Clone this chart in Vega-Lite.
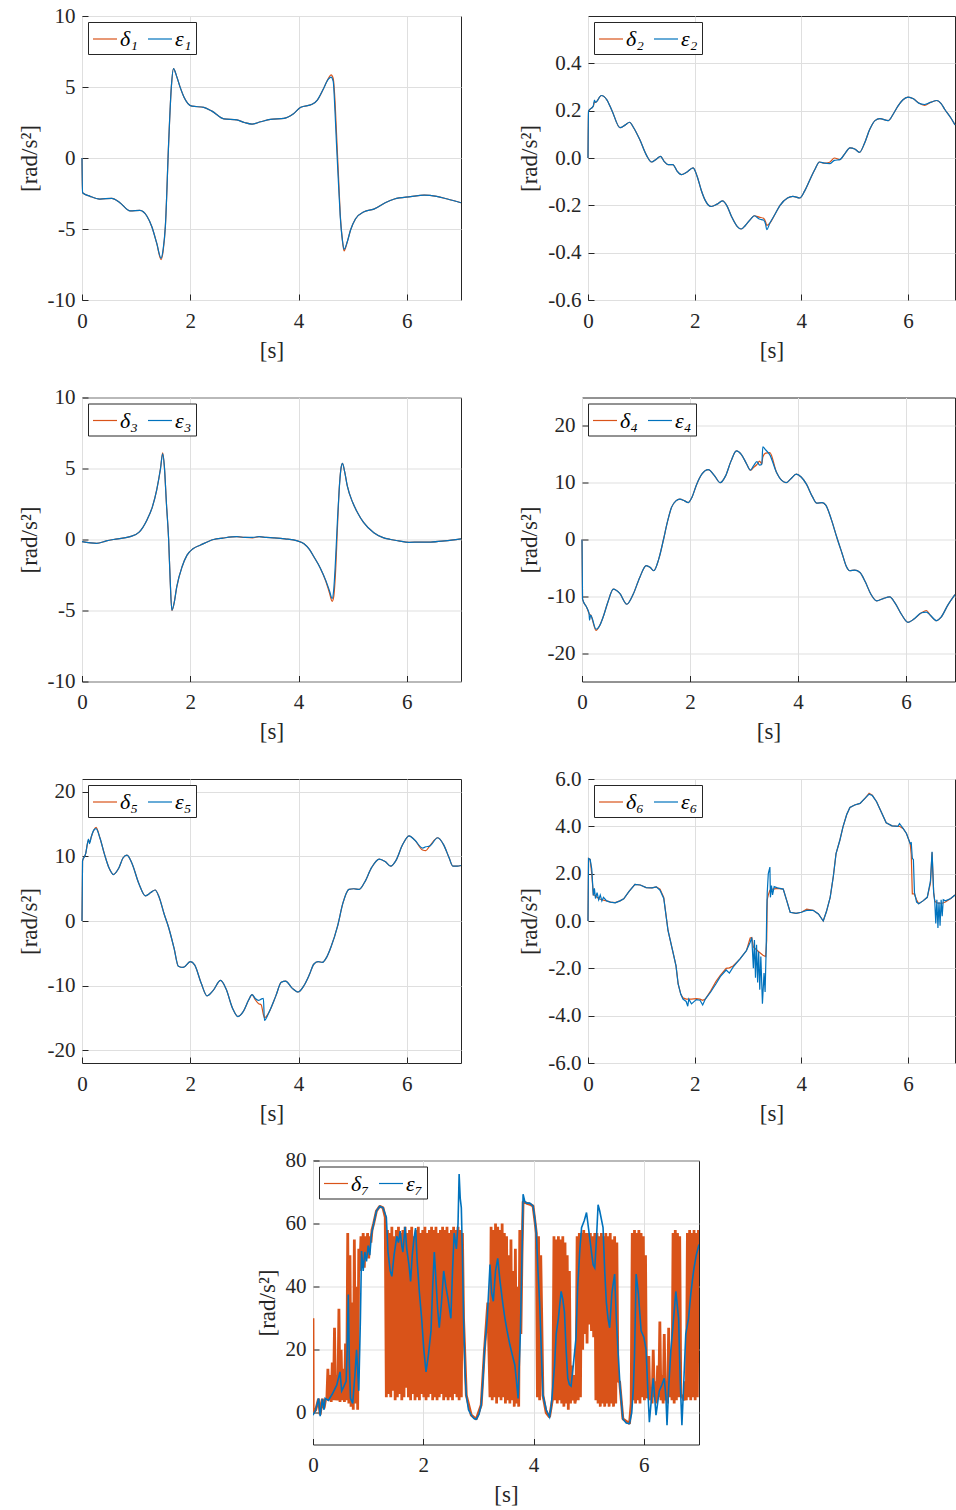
{
"$schema":"https://vega.github.io/schema/vega-lite/v6.json",
"background":"white",
"padding":{"left":17,"top":4,"right":0,"bottom":0},
"spacing":22.5,
"bounds":"full",
"resolve":{"scale":{"color":"independent","x":"independent","y":"independent"},"legend":{"color":"independent"}},
"config":{
 "font":"Liberation Serif, DejaVu Serif, serif",
 "view":{"stroke":"#262626","strokeWidth":1},
 "axis":{"labelFont":"Liberation Serif, DejaVu Serif, serif","labelFontSize":21,"labelColor":"#262626","titleFont":"Liberation Serif, DejaVu Serif, serif","titleFontSize":23,"titleFontWeight":"normal","titleColor":"#262626","domain":false,"grid":true,"gridColor":"#dfdfdf","gridWidth":1,"tickColor":"#262626","tickSize":-6,"tickWidth":1,"labelFlush":false},
 "axisX":{"labelPadding":16,"titlePadding":8,"labelAngle":0},
 "axisY":{"labelPadding":13,"titlePadding":6},
 "legend":{"orient":"top-left","offset":6,"direction":"horizontal","fillColor":"white","strokeColor":"#262626","padding":4,"symbolType":"stroke","symbolSize":576,"symbolStrokeWidth":1.2,"labelFont":"Liberation Serif, DejaVu Serif, serif","labelFontSize":22,"labelFontStyle":"italic","labelColor":"#000000","labelOffset":2,"columnPadding":7},
 "line":{"strokeWidth":1.2,"clip":true}
},
"datasets":{
"p1":[{"t":0,"d":0,"e":0},{"t":0.01,"d":-2.45,"e":-2.45},{"t":0.15,"d":-2.7,"e":-2.7},{"t":0.33,"d":-2.89,"e":-2.89},{"t":0.55,"d":-2.84,"e":-2.84},{"t":0.7,"d":-3.15,"e":-3.15},{"t":0.89,"d":-3.73,"e":-3.73},{"t":1.07,"d":-3.69,"e":-3.69},{"t":1.2,"d":-4.1,"e":-4.1},{"t":1.29,"d":-4.84,"e":-4.84},{"t":1.38,"d":-6.0,"e":-6.0},{"t":1.46,"d":-7.15,"e":-7.05},{"t":1.5,"d":-6.5,"e":-6.4},{"t":1.54,"d":-4.8,"e":-4.8},{"t":1.6,"d":1.03,"e":1.03},{"t":1.65,"d":5.0,"e":5.0},{"t":1.69,"d":6.3,"e":6.3},{"t":1.75,"d":5.73,"e":5.73},{"t":1.82,"d":4.9,"e":4.9},{"t":1.88,"d":4.32,"e":4.32},{"t":2.03,"d":3.65,"e":3.65},{"t":2.25,"d":3.57,"e":3.57},{"t":2.4,"d":3.3,"e":3.3},{"t":2.62,"d":2.75,"e":2.75},{"t":2.86,"d":2.68,"e":2.68},{"t":3.0,"d":2.5,"e":2.5},{"t":3.14,"d":2.39,"e":2.39},{"t":3.3,"d":2.55,"e":2.55},{"t":3.48,"d":2.72,"e":2.72},{"t":3.73,"d":2.79,"e":2.79},{"t":3.9,"d":3.1,"e":3.1},{"t":4.04,"d":3.57,"e":3.57},{"t":4.25,"d":3.78,"e":3.78},{"t":4.35,"d":4.1,"e":4.1},{"t":4.45,"d":4.8,"e":4.8},{"t":4.55,"d":5.6,"e":5.55},{"t":4.6,"d":5.85,"e":5.7},{"t":4.64,"d":5.6,"e":5.4},{"t":4.67,"d":4.2,"e":3.5},{"t":4.7,"d":1.8,"e":1.03},{"t":4.74,"d":-1.5,"e":-2.0},{"t":4.77,"d":-4.0,"e":-4.13},{"t":4.81,"d":-5.8,"e":-5.8},{"t":4.84,"d":-6.55,"e":-6.43},{"t":4.9,"d":-5.9,"e":-5.9},{"t":4.96,"d":-5.07,"e":-5.07},{"t":5.05,"d":-4.3,"e":-4.3},{"t":5.21,"d":-3.78,"e":-3.78},{"t":5.39,"d":-3.6,"e":-3.6},{"t":5.6,"d":-3.15,"e":-3.15},{"t":5.77,"d":-2.89,"e":-2.89},{"t":6.07,"d":-2.72,"e":-2.72},{"t":6.32,"d":-2.61,"e":-2.61},{"t":6.55,"d":-2.7,"e":-2.7},{"t":6.75,"d":-2.89,"e":-2.89},{"t":7.0,"d":-3.15,"e":-3.15}],
"p2":[{"t":0,"d":0,"e":0},{"t":0.01,"d":0.198,"e":0.198},{"t":0.1,"d":0.22,"e":0.22},{"t":0.12,"d":0.235,"e":0.245},{"t":0.14,"d":0.235,"e":0.235},{"t":0.25,"d":0.264,"e":0.264},{"t":0.35,"d":0.247,"e":0.247},{"t":0.45,"d":0.2,"e":0.2},{"t":0.6,"d":0.128,"e":0.128},{"t":0.7,"d":0.14,"e":0.14},{"t":0.78,"d":0.151,"e":0.151},{"t":0.85,"d":0.13,"e":0.13},{"t":0.97,"d":0.078,"e":0.078},{"t":1.1,"d":0.01,"e":0.01},{"t":1.19,"d":-0.017,"e":-0.017},{"t":1.28,"d":-0.005,"e":-0.005},{"t":1.36,"d":0.007,"e":0.007},{"t":1.43,"d":-0.015,"e":-0.015},{"t":1.5,"d":-0.028,"e":-0.028},{"t":1.59,"d":-0.028,"e":-0.028},{"t":1.67,"d":-0.055,"e":-0.055},{"t":1.75,"d":-0.07,"e":-0.07},{"t":1.85,"d":-0.06,"e":-0.06},{"t":1.97,"d":-0.042,"e":-0.042},{"t":2.05,"d":-0.08,"e":-0.08},{"t":2.12,"d":-0.134,"e":-0.134},{"t":2.2,"d":-0.18,"e":-0.18},{"t":2.31,"d":-0.205,"e":-0.205},{"t":2.42,"d":-0.195,"e":-0.195},{"t":2.52,"d":-0.181,"e":-0.181},{"t":2.6,"d":-0.2,"e":-0.2},{"t":2.69,"d":-0.247,"e":-0.247},{"t":2.8,"d":-0.29,"e":-0.29},{"t":2.87,"d":-0.3,"e":-0.3},{"t":2.95,"d":-0.285,"e":-0.285},{"t":3.05,"d":-0.258,"e":-0.258},{"t":3.12,"d":-0.244,"e":-0.244},{"t":3.21,"d":-0.25,"e":-0.258},{"t":3.29,"d":-0.255,"e":-0.262},{"t":3.33,"d":-0.27,"e":-0.28},{"t":3.35,"d":-0.285,"e":-0.303},{"t":3.41,"d":-0.275,"e":-0.275},{"t":3.5,"d":-0.24,"e":-0.24},{"t":3.6,"d":-0.2,"e":-0.2},{"t":3.74,"d":-0.169,"e":-0.169},{"t":3.84,"d":-0.162,"e":-0.162},{"t":3.97,"d":-0.169,"e":-0.169},{"t":4.06,"d":-0.14,"e":-0.14},{"t":4.16,"d":-0.092,"e":-0.092},{"t":4.25,"d":-0.05,"e":-0.05},{"t":4.34,"d":-0.017,"e":-0.017},{"t":4.43,"d":-0.022,"e":-0.022},{"t":4.53,"d":-0.018,"e":-0.024},{"t":4.62,"d":0.0,"e":-0.01},{"t":4.72,"d":-0.007,"e":-0.007},{"t":4.82,"d":0.02,"e":0.02},{"t":4.91,"d":0.043,"e":0.043},{"t":5.0,"d":0.038,"e":0.038},{"t":5.09,"d":0.024,"e":0.024},{"t":5.18,"d":0.06,"e":0.06},{"t":5.28,"d":0.12,"e":0.12},{"t":5.38,"d":0.158,"e":0.158},{"t":5.47,"d":0.166,"e":0.166},{"t":5.63,"d":0.158,"e":0.158},{"t":5.72,"d":0.185,"e":0.185},{"t":5.81,"d":0.219,"e":0.219},{"t":5.9,"d":0.245,"e":0.245},{"t":6.0,"d":0.257,"e":0.257},{"t":6.1,"d":0.25,"e":0.25},{"t":6.2,"d":0.232,"e":0.232},{"t":6.31,"d":0.222,"e":0.226},{"t":6.42,"d":0.235,"e":0.235},{"t":6.54,"d":0.243,"e":0.243},{"t":6.62,"d":0.23,"e":0.23},{"t":6.69,"d":0.205,"e":0.205},{"t":6.8,"d":0.17,"e":0.17},{"t":6.88,"d":0.14,"e":0.14}],
"p3":[{"t":0,"d":-0.15,"e":-0.15},{"t":0.27,"d":-0.27,"e":-0.27},{"t":0.45,"d":-0.1,"e":-0.1},{"t":0.58,"d":0.0,"e":0.0},{"t":0.89,"d":0.2,"e":0.2},{"t":1.05,"d":0.5,"e":0.5},{"t":1.2,"d":1.38,"e":1.38},{"t":1.3,"d":2.3,"e":2.3},{"t":1.38,"d":3.5,"e":3.5},{"t":1.45,"d":5.0,"e":5.0},{"t":1.49,"d":6.1,"e":6.04},{"t":1.52,"d":5.2,"e":5.2},{"t":1.56,"d":2.5,"e":2.5},{"t":1.6,"d":0,"e":0},{"t":1.63,"d":-3.0,"e":-3.0},{"t":1.66,"d":-5.0,"e":-4.98},{"t":1.7,"d":-4.5,"e":-4.5},{"t":1.75,"d":-3.33,"e":-3.33},{"t":1.85,"d":-1.9,"e":-1.9},{"t":1.94,"d":-1.1,"e":-1.1},{"t":2.05,"d":-0.65,"e":-0.65},{"t":2.19,"d":-0.39,"e":-0.39},{"t":2.43,"d":0,"e":0},{"t":2.6,"d":0.1,"e":0.1},{"t":2.86,"d":0.2,"e":0.2},{"t":3.0,"d":0.15,"e":0.15},{"t":3.15,"d":0.12,"e":0.15},{"t":3.27,"d":0.2,"e":0.2},{"t":3.4,"d":0.15,"e":0.15},{"t":3.54,"d":0.12,"e":0.12},{"t":3.75,"d":0.05,"e":0.05},{"t":3.98,"d":-0.1,"e":-0.1},{"t":4.1,"d":-0.3,"e":-0.3},{"t":4.2,"d":-0.7,"e":-0.7},{"t":4.28,"d":-1.2,"e":-1.2},{"t":4.4,"d":-2.0,"e":-2.0},{"t":4.5,"d":-2.9,"e":-2.86},{"t":4.57,"d":-3.75,"e":-3.6},{"t":4.62,"d":-4.35,"e":-4.15},{"t":4.65,"d":-4.0,"e":-3.5},{"t":4.68,"d":-2.5,"e":-1.65},{"t":4.72,"d":1.0,"e":1.5},{"t":4.75,"d":3.5,"e":3.5},{"t":4.78,"d":4.9,"e":4.9},{"t":4.81,"d":5.36,"e":5.36},{"t":4.85,"d":4.8,"e":4.8},{"t":4.9,"d":3.77,"e":3.77},{"t":5.0,"d":2.6,"e":2.6},{"t":5.09,"d":1.89,"e":1.89},{"t":5.2,"d":1.2,"e":1.2},{"t":5.39,"d":0.48,"e":0.48},{"t":5.55,"d":0.15,"e":0.15},{"t":5.7,"d":0,"e":0},{"t":5.85,"d":-0.1,"e":-0.1},{"t":6.04,"d":-0.2,"e":-0.2},{"t":6.25,"d":-0.18,"e":-0.18},{"t":6.44,"d":-0.18,"e":-0.18},{"t":6.7,"d":-0.1,"e":-0.1},{"t":7.0,"d":0.05,"e":0.05}],
"p4":[{"t":0,"d":0,"e":0},{"t":0.01,"d":-10.5,"e":-10.5},{"t":0.09,"d":-12,"e":-12},{"t":0.13,"d":-13,"e":-13},{"t":0.14,"d":-13.2,"e":-14.2},{"t":0.16,"d":-13.3,"e":-13.3},{"t":0.26,"d":-16.0,"e":-15.8},{"t":0.32,"d":-15.3,"e":-15.3},{"t":0.39,"d":-13.7,"e":-13.7},{"t":0.48,"d":-11,"e":-11},{"t":0.58,"d":-8.73,"e":-8.73},{"t":0.7,"d":-9.5,"e":-9.5},{"t":0.83,"d":-11.4,"e":-11.4},{"t":0.95,"d":-9.6,"e":-9.6},{"t":1.07,"d":-6.67,"e":-6.67},{"t":1.19,"d":-4.6,"e":-4.6},{"t":1.26,"d":-4.9,"e":-4.9},{"t":1.33,"d":-5.5,"e":-5.5},{"t":1.42,"d":-3.5,"e":-3.5},{"t":1.51,"d":0,"e":0},{"t":1.58,"d":3,"e":3},{"t":1.66,"d":5.7,"e":5.7},{"t":1.74,"d":6.8,"e":6.8},{"t":1.81,"d":7.1,"e":7.1},{"t":1.9,"d":6.8,"e":6.8},{"t":1.97,"d":6.5,"e":6.5},{"t":2.04,"d":7.5,"e":7.5},{"t":2.12,"d":9.6,"e":9.6},{"t":2.22,"d":11.5,"e":11.5},{"t":2.34,"d":12.3,"e":12.3},{"t":2.45,"d":11.3,"e":11.3},{"t":2.56,"d":10.0,"e":10.0},{"t":2.66,"d":11.2,"e":11.2},{"t":2.76,"d":13.8,"e":13.8},{"t":2.86,"d":15.6,"e":15.6},{"t":2.95,"d":15.0,"e":15.0},{"t":3.05,"d":13.3,"e":13.3},{"t":3.12,"d":12.2,"e":12.2},{"t":3.18,"d":12.7,"e":13.0},{"t":3.24,"d":13.2,"e":13.7},{"t":3.29,"d":13.8,"e":13.1},{"t":3.33,"d":13.3,"e":13.2},{"t":3.35,"d":14.5,"e":16.3},{"t":3.4,"d":15.2,"e":15.8},{"t":3.48,"d":15.3,"e":14.9},{"t":3.6,"d":11.9,"e":11.9},{"t":3.7,"d":10.4,"e":10.4},{"t":3.78,"d":10.0,"e":10.0},{"t":3.87,"d":10.7,"e":10.7},{"t":3.97,"d":11.5,"e":11.5},{"t":4.06,"d":11.0,"e":11.0},{"t":4.16,"d":9.7,"e":9.7},{"t":4.27,"d":7.5,"e":7.5},{"t":4.35,"d":6.4,"e":6.4},{"t":4.45,"d":6.5,"e":6.5},{"t":4.52,"d":6.0,"e":6.0},{"t":4.62,"d":3.5,"e":3.5},{"t":4.72,"d":0.4,"e":0.4},{"t":4.82,"d":-2.5,"e":-2.5},{"t":4.9,"d":-4.8,"e":-4.8},{"t":4.96,"d":-5.5,"e":-5.5},{"t":5.05,"d":-5.4,"e":-5.4},{"t":5.15,"d":-5.8,"e":-5.8},{"t":5.25,"d":-7.5,"e":-7.5},{"t":5.35,"d":-9.6,"e":-9.6},{"t":5.46,"d":-10.8,"e":-10.8},{"t":5.58,"d":-10.4,"e":-10.4},{"t":5.7,"d":-10.1,"e":-10.1},{"t":5.8,"d":-11.2,"e":-11.2},{"t":5.92,"d":-13.2,"e":-13.2},{"t":6.04,"d":-14.6,"e":-14.6},{"t":6.15,"d":-14.0,"e":-14.0},{"t":6.29,"d":-12.9,"e":-12.9},{"t":6.38,"d":-12.5,"e":-12.8},{"t":6.45,"d":-13.3,"e":-13.3},{"t":6.57,"d":-14.3,"e":-14.3},{"t":6.65,"d":-13.7,"e":-13.7},{"t":6.78,"d":-11.5,"e":-11.5},{"t":6.91,"d":-9.7,"e":-9.7}],
"p5":[{"t":0,"d":0,"e":0},{"t":0.01,"d":9.3,"e":9.3},{"t":0.07,"d":10.5,"e":10.5},{"t":0.1,"d":12.0,"e":12.0},{"t":0.12,"d":12.5,"e":12.7},{"t":0.14,"d":12.2,"e":12.0},{"t":0.17,"d":13.0,"e":13.0},{"t":0.22,"d":14.1,"e":14.1},{"t":0.26,"d":14.5,"e":14.3},{"t":0.33,"d":12.9,"e":12.9},{"t":0.42,"d":10.2,"e":10.2},{"t":0.5,"d":8.2,"e":8.2},{"t":0.58,"d":7.2,"e":7.2},{"t":0.68,"d":8.2,"e":8.2},{"t":0.76,"d":9.8,"e":9.8},{"t":0.83,"d":10.2,"e":10.2},{"t":0.92,"d":9.0,"e":9.0},{"t":1.05,"d":5.8,"e":5.8},{"t":1.17,"d":3.9,"e":3.9},{"t":1.27,"d":4.4,"e":4.4},{"t":1.35,"d":4.8,"e":4.8},{"t":1.42,"d":3.8,"e":3.8},{"t":1.52,"d":1.0,"e":1.0},{"t":1.6,"d":-1.0,"e":-1.0},{"t":1.7,"d":-4.2,"e":-4.2},{"t":1.78,"d":-7.0,"e":-7.0},{"t":1.87,"d":-7.2,"e":-7.2},{"t":2.0,"d":-6.3,"e":-6.3},{"t":2.08,"d":-6.8,"e":-6.8},{"t":2.2,"d":-9.6,"e":-9.6},{"t":2.31,"d":-11.6,"e":-11.6},{"t":2.42,"d":-10.8,"e":-10.8},{"t":2.56,"d":-9.2,"e":-9.2},{"t":2.66,"d":-10.5,"e":-10.5},{"t":2.78,"d":-13.5,"e":-13.5},{"t":2.88,"d":-14.8,"e":-14.8},{"t":2.98,"d":-14.0,"e":-14.0},{"t":3.08,"d":-12.2,"e":-12.2},{"t":3.14,"d":-11.4,"e":-11.4},{"t":3.2,"d":-12.2,"e":-12.0},{"t":3.26,"d":-12.8,"e":-12.3},{"t":3.31,"d":-13.0,"e":-12.1},{"t":3.35,"d":-14.5,"e":-12.0},{"t":3.37,"d":-15.0,"e":-15.4},{"t":3.45,"d":-14.2,"e":-14.2},{"t":3.58,"d":-11.6,"e":-11.6},{"t":3.68,"d":-9.5,"e":-9.5},{"t":3.76,"d":-9.3,"e":-9.3},{"t":3.88,"d":-10.4,"e":-10.4},{"t":3.99,"d":-11.0,"e":-11.0},{"t":4.1,"d":-10.0,"e":-10.0},{"t":4.2,"d":-8.3,"e":-8.3},{"t":4.28,"d":-6.7,"e":-6.7},{"t":4.36,"d":-6.3,"e":-6.3},{"t":4.44,"d":-6.4,"e":-6.4},{"t":4.52,"d":-5.6,"e":-5.6},{"t":4.6,"d":-4.0,"e":-4.0},{"t":4.72,"d":-0.8,"e":-0.8},{"t":4.82,"d":2.8,"e":2.8},{"t":4.93,"d":4.9,"e":4.9},{"t":5.02,"d":5.0,"e":5.0},{"t":5.12,"d":4.9,"e":4.9},{"t":5.22,"d":6.0,"e":6.0},{"t":5.35,"d":8.3,"e":8.3},{"t":5.49,"d":9.6,"e":9.6},{"t":5.6,"d":9.2,"e":9.2},{"t":5.7,"d":8.5,"e":8.5},{"t":5.8,"d":9.4,"e":9.4},{"t":5.92,"d":11.8,"e":11.8},{"t":6.04,"d":13.2,"e":13.2},{"t":6.15,"d":12.5,"e":12.5},{"t":6.29,"d":11.0,"e":11.3},{"t":6.35,"d":10.9,"e":11.5},{"t":6.42,"d":11.6,"e":11.6},{"t":6.57,"d":12.9,"e":12.9},{"t":6.68,"d":11.8,"e":11.8},{"t":6.78,"d":9.8,"e":9.8},{"t":6.85,"d":8.5,"e":8.5},{"t":6.93,"d":8.5,"e":8.5},{"t":7.0,"d":8.6,"e":8.6}],
"p6":[{"t":0,"d":0,"e":0},{"t":0.01,"d":2.64,"e":2.64},{"t":0.04,"d":2.6,"e":2.6},{"t":0.07,"d":2.0,"e":2.2},{"t":0.1,"d":1.1,"e":1.08},{"t":0.12,"d":1.1,"e":1.38},{"t":0.14,"d":1.05,"e":0.95},{"t":0.17,"d":1.0,"e":1.2},{"t":0.2,"d":0.95,"e":0.9},{"t":0.23,"d":0.92,"e":1.1},{"t":0.26,"d":0.9,"e":0.85},{"t":0.29,"d":0.88,"e":1.0},{"t":0.35,"d":0.85,"e":0.85},{"t":0.42,"d":0.8,"e":0.8},{"t":0.51,"d":0.78,"e":0.77},{"t":0.6,"d":0.85,"e":0.85},{"t":0.67,"d":0.94,"e":0.94},{"t":0.77,"d":1.25,"e":1.25},{"t":0.88,"d":1.55,"e":1.55},{"t":0.98,"d":1.52,"e":1.52},{"t":1.09,"d":1.41,"e":1.41},{"t":1.2,"d":1.4,"e":1.4},{"t":1.28,"d":1.44,"e":1.44},{"t":1.35,"d":1.35,"e":1.3},{"t":1.42,"d":1.0,"e":0.95},{"t":1.5,"d":-0.4,"e":-0.4},{"t":1.6,"d":-1.39,"e":-1.39},{"t":1.65,"d":-1.9,"e":-1.9},{"t":1.69,"d":-2.66,"e":-2.66},{"t":1.74,"d":-3.1,"e":-3.1},{"t":1.78,"d":-3.25,"e":-3.3},{"t":1.84,"d":-3.3,"e":-3.4},{"t":1.87,"d":-3.3,"e":-3.6},{"t":1.89,"d":-3.3,"e":-3.3},{"t":1.94,"d":-3.3,"e":-3.5},{"t":2.03,"d":-3.28,"e":-3.32},{"t":2.1,"d":-3.3,"e":-3.35},{"t":2.15,"d":-3.35,"e":-3.55},{"t":2.2,"d":-3.3,"e":-3.3},{"t":2.3,"d":-2.95,"e":-3.0},{"t":2.4,"d":-2.55,"e":-2.65},{"t":2.48,"d":-2.3,"e":-2.35},{"t":2.59,"d":-2.0,"e":-2.07},{"t":2.65,"d":-1.98,"e":-2.2},{"t":2.72,"d":-1.9,"e":-1.95},{"t":2.85,"d":-1.6,"e":-1.6},{"t":2.97,"d":-1.25,"e":-1.25},{"t":3.04,"d":-0.72,"e":-0.9},{"t":3.07,"d":-0.7,"e":-0.7},{"t":3.1,"d":-1.1,"e":-2.0},{"t":3.12,"e":-0.8},{"t":3.14,"e":-2.4},{"t":3.16,"e":-1.0},{"t":3.18,"e":-2.6},{"t":3.2,"d":-1.3,"e":-1.3},{"t":3.22,"e":-2.9},{"t":3.24,"e":-1.5},{"t":3.27,"e":-3.5},{"t":3.28,"d":-1.45},{"t":3.3,"e":-2.2},{"t":3.32,"e":-3.0},{"t":3.33,"d":-1.5},{"t":3.34,"e":-1.2},{"t":3.35,"d":-0.8,"e":0.3},{"t":3.36,"d":0.9,"e":1.2},{"t":3.38,"d":1.1,"e":2.0},{"t":3.41,"d":1.3,"e":2.28},{"t":3.42,"e":1.0},{"t":3.44,"e":1.5},{"t":3.46,"e":1.1},{"t":3.47,"d":1.35},{"t":3.49,"e":1.45},{"t":3.55,"d":1.38,"e":1.4},{"t":3.66,"d":1.35,"e":1.35},{"t":3.72,"d":0.9,"e":0.9},{"t":3.79,"d":0.37,"e":0.37},{"t":3.9,"d":0.32,"e":0.32},{"t":4.0,"d":0.37,"e":0.37},{"t":4.1,"d":0.5,"e":0.45},{"t":4.22,"d":0.45,"e":0.45},{"t":4.32,"d":0.3,"e":0.3},{"t":4.41,"d":0.0,"e":0.0},{"t":4.47,"d":0.4,"e":0.4},{"t":4.54,"d":1.0,"e":1.0},{"t":4.6,"d":1.9,"e":1.9},{"t":4.65,"d":2.85,"e":2.85},{"t":4.72,"d":3.4,"e":3.4},{"t":4.78,"d":3.98,"e":3.98},{"t":4.85,"d":4.5,"e":4.5},{"t":4.91,"d":4.8,"e":4.8},{"t":5.0,"d":4.9,"e":4.9},{"t":5.1,"d":4.97,"e":4.97},{"t":5.2,"d":5.2,"e":5.2},{"t":5.27,"d":5.4,"e":5.36},{"t":5.33,"d":5.32,"e":5.3},{"t":5.41,"d":5.04,"e":5.04},{"t":5.5,"d":4.6,"e":4.6},{"t":5.59,"d":4.15,"e":4.15},{"t":5.7,"d":4.02,"e":4.02},{"t":5.81,"d":4.0,"e":4.0},{"t":5.84,"d":4.0,"e":4.12},{"t":5.91,"d":3.9,"e":3.9},{"t":5.97,"d":3.7,"e":3.7},{"t":6.04,"d":3.27,"e":3.27},{"t":6.06,"d":2.8,"e":3.3},{"t":6.08,"d":1.15,"e":2.64},{"t":6.1,"d":1.15,"e":2.6},{"t":6.12,"d":1.13,"e":1.2},{"t":6.16,"d":0.9,"e":0.8},{"t":6.2,"d":0.73,"e":0.73},{"t":6.28,"d":0.85,"e":0.85},{"t":6.36,"d":1.0,"e":1.0},{"t":6.42,"d":1.6,"e":1.7},{"t":6.45,"d":2.9,"e":2.92},{"t":6.48,"d":1.2,"e":1.2},{"t":6.5,"d":0.85,"e":0.85},{"t":6.52,"d":0.8,"e":-0.1},{"t":6.54,"e":0.9},{"t":6.56,"d":0.75,"e":-0.3},{"t":6.58,"e":0.8},{"t":6.6,"d":0.75,"e":-0.2},{"t":6.62,"e":0.9},{"t":6.64,"d":0.75,"e":0.2},{"t":6.66,"e":0.9},{"t":6.7,"d":0.8,"e":0.85},{"t":6.8,"d":0.95,"e":0.95},{"t":6.88,"d":1.1,"e":1.1}],
"p7":[{"t":0,"d":30},{"t":0.005,"d":0},{"t":0.05,"d":1},{"t":0.1,"d":4.5},{"t":0.13,"d":-0.5},{"t":0.17,"d":4.5},{"t":0.2,"d":1.5},{"t":0.23,"d":4.5},
{"t":0.25,"d":4},{"t":0.27,"d":14},{"t":0.29,"d":4},{"t":0.31,"d":12},{"t":0.33,"d":3.5},{"t":0.35,"d":16},{"t":0.37,"d":4},{"t":0.39,"d":27},{"t":0.41,"d":4},{"t":0.43,"d":12},{"t":0.45,"d":4},{"t":0.47,"d":33},{"t":0.49,"d":3.5},{"t":0.51,"d":20},{"t":0.53,"d":4},{"t":0.55,"d":14},{"t":0.57,"d":3.5},{"t":0.59,"d":22},
{"t":0.61,"d":4},{"t":0.63,"d":57},{"t":0.65,"d":3},{"t":0.67,"d":50},{"t":0.69,"d":2},{"t":0.71,"d":35},{"t":0.73,"d":1},{"t":0.75,"d":55},{"t":0.77,"d":3},{"t":0.79,"d":40},{"t":0.81,"d":1},{"t":0.83,"d":52},
{"t":0.85,"d":45},{"t":0.87,"d":56},{"t":0.89,"d":47},{"t":0.91,"d":57},{"t":0.93,"d":46},{"t":0.95,"d":56},{"t":0.97,"d":50},{"t":0.99,"d":57},{"t":1.01,"d":49},{"t":1.03,"d":56},{"t":1.05,"d":54},{"t":1.07,"d":58},
{"t":1.1,"d":60},{"t":1.15,"d":64},{"t":1.21,"d":65.5},{"t":1.27,"d":65},{"t":1.31,"d":62},
{"t":1.33,"d":5},{"t":1.35,"d":58},{"t":1.37,"d":6},{"t":1.39,"d":57},{"t":1.41,"d":5},{"t":1.43,"d":59},{"t":1.45,"d":7},{"t":1.47,"d":56},{"t":1.49,"d":4},{"t":1.51,"d":58},{"t":1.53,"d":5},{"t":1.55,"d":59},{"t":1.57,"d":6},{"t":1.59,"d":57},{"t":1.61,"d":4},{"t":1.63,"d":58},{"t":1.65,"d":5},{"t":1.67,"d":59},{"t":1.69,"d":8},{"t":1.71,"d":57},{"t":1.73,"d":5},{"t":1.75,"d":58},{"t":1.77,"d":4},{"t":1.79,"d":59},{"t":1.81,"d":6},{"t":1.83,"d":56},{"t":1.85,"d":4},{"t":1.87,"d":58},{"t":1.89,"d":5},{"t":1.91,"d":59},{"t":1.93,"d":4},{"t":1.95,"d":57},{"t":1.97,"d":6},{"t":1.99,"d":58},{"t":2.01,"d":5},{"t":2.03,"d":59},{"t":2.05,"d":4},{"t":2.07,"d":57},{"t":2.09,"d":5},{"t":2.11,"d":58},{"t":2.13,"d":6},{"t":2.15,"d":59},{"t":2.17,"d":4},{"t":2.19,"d":58},{"t":2.21,"d":5},{"t":2.23,"d":59},{"t":2.25,"d":4},{"t":2.27,"d":57},{"t":2.29,"d":5},{"t":2.31,"d":58},{"t":2.33,"d":6},{"t":2.35,"d":59},{"t":2.37,"d":4},{"t":2.39,"d":58},{"t":2.41,"d":5},{"t":2.43,"d":59},{"t":2.45,"d":4},{"t":2.47,"d":57},{"t":2.49,"d":5},{"t":2.51,"d":58},{"t":2.53,"d":4},{"t":2.55,"d":59},{"t":2.57,"d":6},{"t":2.59,"d":58},{"t":2.61,"d":5},{"t":2.63,"d":59},{"t":2.65,"d":4},{"t":2.67,"d":58},{"t":2.69,"d":5},{"t":2.71,"d":57},
{"t":2.73,"d":30},{"t":2.78,"d":5.6},{"t":2.87,"d":-0.7},{"t":2.96,"d":-2},{"t":3.05,"d":2.5},{"t":3.11,"d":20},{"t":3.17,"d":35},
{"t":3.21,"d":5},{"t":3.23,"d":59},{"t":3.25,"d":4},{"t":3.27,"d":58},{"t":3.29,"d":5},{"t":3.31,"d":60},{"t":3.33,"d":3},{"t":3.35,"d":59},{"t":3.37,"d":5},{"t":3.39,"d":58},{"t":3.41,"d":4},{"t":3.43,"d":60},{"t":3.45,"d":5},{"t":3.47,"d":57},{"t":3.49,"d":3},{"t":3.51,"d":56},{"t":3.53,"d":4},{"t":3.55,"d":50},{"t":3.57,"d":3},{"t":3.59,"d":55},{"t":3.61,"d":4},{"t":3.63,"d":45},{"t":3.65,"d":2},{"t":3.67,"d":52},{"t":3.69,"d":3},{"t":3.71,"d":40},{"t":3.73,"d":2},{"t":3.75,"d":58},{"t":3.77,"d":25},
{"t":3.79,"d":50},{"t":3.81,"d":67},{"t":3.87,"d":66.5},{"t":3.95,"d":66},{"t":3.99,"d":65.6},{"t":4.03,"d":60},
{"t":4.05,"d":57},{"t":4.07,"d":5},{"t":4.09,"d":56},{"t":4.11,"d":4},{"t":4.13,"d":50},
{"t":4.17,"d":5.6},{"t":4.23,"d":0},{"t":4.29,"d":-1.3},{"t":4.33,"d":3},
{"t":4.35,"d":5},{"t":4.37,"d":56},{"t":4.39,"d":4},{"t":4.41,"d":55},{"t":4.43,"d":3},{"t":4.45,"d":56},{"t":4.47,"d":4},{"t":4.49,"d":55},{"t":4.51,"d":3},{"t":4.53,"d":56},{"t":4.55,"d":2},{"t":4.57,"d":54},{"t":4.59,"d":3},{"t":4.61,"d":50},{"t":4.63,"d":1},{"t":4.65,"d":45},{"t":4.67,"d":3},
{"t":4.69,"d":15},{"t":4.71,"d":4},{"t":4.73,"d":12},{"t":4.75,"d":3},
{"t":4.77,"d":5},{"t":4.79,"d":56},{"t":4.81,"d":4},{"t":4.83,"d":57},{"t":4.85,"d":5},{"t":4.87,"d":57},{"t":4.89,"d":20},{"t":4.91,"d":58},{"t":4.93,"d":25},{"t":4.95,"d":57},{"t":4.97,"d":22},{"t":4.99,"d":57},{"t":5.01,"d":28},{"t":5.03,"d":57},{"t":5.05,"d":26},{"t":5.07,"d":56},{"t":5.09,"d":24},{"t":5.11,"d":57},{"t":5.13,"d":4},{"t":5.15,"d":57},{"t":5.17,"d":3},{"t":5.19,"d":56},{"t":5.21,"d":2},{"t":5.23,"d":57},{"t":5.25,"d":3},{"t":5.27,"d":56},{"t":5.29,"d":2},{"t":5.31,"d":57},{"t":5.33,"d":3},{"t":5.35,"d":56},{"t":5.37,"d":2},{"t":5.39,"d":57},{"t":5.41,"d":3},{"t":5.43,"d":55},{"t":5.45,"d":2},{"t":5.47,"d":56},{"t":5.49,"d":3},{"t":5.51,"d":54},{"t":5.53,"d":10},
{"t":5.56,"d":10},{"t":5.62,"d":-1.9},{"t":5.74,"d":-3.4},
{"t":5.77,"d":3},{"t":5.79,"d":57},{"t":5.81,"d":4},{"t":5.83,"d":58},{"t":5.85,"d":3},{"t":5.87,"d":57},{"t":5.89,"d":4},{"t":5.91,"d":58},{"t":5.93,"d":3},{"t":5.95,"d":57},{"t":5.97,"d":5},{"t":5.99,"d":56},{"t":6.01,"d":4},{"t":6.03,"d":50},{"t":6.05,"d":5},
{"t":6.07,"d":5},{"t":6.09,"d":18},{"t":6.11,"d":4},{"t":6.13,"d":8},{"t":6.15,"d":3},{"t":6.17,"d":20},{"t":6.19,"d":5},{"t":6.21,"d":10},{"t":6.23,"d":3},{"t":6.25,"d":15},{"t":6.27,"d":5},{"t":6.29,"d":29},{"t":6.31,"d":4},{"t":6.33,"d":12},{"t":6.35,"d":3},{"t":6.37,"d":25},{"t":6.39,"d":4},{"t":6.41,"d":10},{"t":6.43,"d":3},{"t":6.45,"d":27},{"t":6.47,"d":5},{"t":6.49,"d":20},
{"t":6.51,"d":4},{"t":6.53,"d":57},{"t":6.55,"d":3},{"t":6.57,"d":58},{"t":6.59,"d":4},{"t":6.61,"d":57},{"t":6.63,"d":5},{"t":6.65,"d":56},{"t":6.67,"d":6},
{"t":6.7,"d":5},{"t":6.73,"d":4},{"t":6.75,"d":10},
{"t":6.77,"d":4},{"t":6.79,"d":57},{"t":6.81,"d":5},{"t":6.83,"d":58},{"t":6.85,"d":4},{"t":6.87,"d":57},{"t":6.89,"d":5},{"t":6.91,"d":58},{"t":6.93,"d":4},{"t":6.95,"d":57},{"t":6.97,"d":5},{"t":6.99,"d":58},{"t":7.0,"d":30},
{"t":0,"e":-0.7},{"t":0.05,"e":1},{"t":0.1,"e":4.6},{"t":0.13,"e":-1},{"t":0.17,"e":4.5},{"t":0.2,"e":1},{"t":0.22,"e":4.6},{"t":0.28,"e":4},{"t":0.35,"e":6},{"t":0.43,"e":8.8},{"t":0.49,"e":13},{"t":0.52,"e":7},{"t":0.55,"e":8},{"t":0.6,"e":10},{"t":0.62,"e":20},{"t":0.64,"e":37.5},{"t":0.66,"e":15},{"t":0.68,"e":4.6},{"t":0.72,"e":3},{"t":0.76,"e":12},{"t":0.79,"e":20},{"t":0.83,"e":7},{"t":0.86,"e":30},{"t":0.88,"e":51.3},{"t":0.91,"e":45},{"t":0.94,"e":51},{"t":0.97,"e":48},{"t":1.0,"e":53},{"t":1.03,"e":50},{"t":1.06,"e":56.6},{"t":1.1,"e":60},{"t":1.15,"e":64},{"t":1.21,"e":65.5},{"t":1.27,"e":65},{"t":1.33,"e":62},{"t":1.36,"e":51},{"t":1.4,"e":45},{"t":1.43,"e":43.3},{"t":1.47,"e":50},{"t":1.52,"e":56},{"t":1.55,"e":54},{"t":1.58,"e":57.6},{"t":1.61,"e":53},{"t":1.63,"e":51},{"t":1.67,"e":59},{"t":1.7,"e":52},{"t":1.74,"e":47},{"t":1.77,"e":41.7},{"t":1.8,"e":50},{"t":1.83,"e":55},{"t":1.86,"e":58.6},{"t":1.89,"e":48},{"t":1.93,"e":38},{"t":1.97,"e":30},{"t":2.01,"e":20},{"t":2.05,"e":13},{"t":2.09,"e":18},{"t":2.14,"e":26},{"t":2.17,"e":40},{"t":2.2,"e":51},{"t":2.23,"e":42},{"t":2.26,"e":33},{"t":2.29,"e":27},{"t":2.33,"e":35},{"t":2.37,"e":45},{"t":2.41,"e":40},{"t":2.45,"e":36},{"t":2.5,"e":30},{"t":2.53,"e":45},{"t":2.56,"e":57},{"t":2.6,"e":52},{"t":2.63,"e":60},{"t":2.65,"e":75.7},{"t":2.67,"e":68},{"t":2.69,"e":65},{"t":2.71,"e":50},{"t":2.73,"e":30},{"t":2.76,"e":12},{"t":2.78,"e":5.6},{"t":2.82,"e":1},{"t":2.87,"e":-0.7},{"t":2.92,"e":-1.8},{"t":2.96,"e":-2},{"t":3.01,"e":-0.5},{"t":3.05,"e":2.5},{"t":3.08,"e":10},{"t":3.11,"e":20},{"t":3.16,"e":30},{"t":3.21,"e":47},{"t":3.24,"e":38},{"t":3.27,"e":35.4},{"t":3.31,"e":45},{"t":3.35,"e":49},{"t":3.39,"e":42},{"t":3.44,"e":35},{"t":3.48,"e":30},{"t":3.52,"e":26},{"t":3.57,"e":21.6},{"t":3.62,"e":18},{"t":3.66,"e":15.2},{"t":3.69,"e":10},{"t":3.72,"e":4.6},{"t":3.76,"e":25},{"t":3.79,"e":50},{"t":3.81,"e":69.3},{"t":3.84,"e":67},{"t":3.87,"e":66.5},{"t":3.93,"e":66.5},{"t":3.99,"e":65.6},{"t":4.02,"e":62},{"t":4.05,"e":57},{"t":4.08,"e":45},{"t":4.11,"e":35},{"t":4.14,"e":20},{"t":4.17,"e":5.6},{"t":4.23,"e":1},{"t":4.29,"e":-1.3},{"t":4.32,"e":2},{"t":4.35,"e":8.5},{"t":4.38,"e":15},{"t":4.41,"e":25},{"t":4.45,"e":30},{"t":4.5,"e":38.5},{"t":4.53,"e":36},{"t":4.56,"e":32},{"t":4.59,"e":20},{"t":4.62,"e":11},{"t":4.65,"e":9},{"t":4.68,"e":8.5},{"t":4.72,"e":15},{"t":4.77,"e":24},{"t":4.8,"e":40},{"t":4.84,"e":52},{"t":4.87,"e":58.7},{"t":4.92,"e":61},{"t":4.96,"e":63.5},{"t":5.0,"e":58},{"t":5.05,"e":51},{"t":5.08,"e":47},{"t":5.11,"e":46},{"t":5.14,"e":55},{"t":5.17,"e":66},{"t":5.2,"e":64},{"t":5.26,"e":58.7},{"t":5.29,"e":45},{"t":5.32,"e":35},{"t":5.35,"e":30},{"t":5.38,"e":27},{"t":5.42,"e":38},{"t":5.47,"e":44},{"t":5.5,"e":30},{"t":5.53,"e":20},{"t":5.57,"e":8},{"t":5.62,"e":-1.9},{"t":5.68,"e":-3.2},{"t":5.74,"e":-3.4},{"t":5.78,"e":0},{"t":5.81,"e":8},{"t":5.83,"e":18},{"t":5.86,"e":44},{"t":5.9,"e":38},{"t":5.95,"e":26},{"t":6.0,"e":24},{"t":6.04,"e":20},{"t":6.07,"e":8},{"t":6.1,"e":-2.9},{"t":6.14,"e":5},{"t":6.17,"e":11},{"t":6.22,"e":-0.7},{"t":6.28,"e":7},{"t":6.33,"e":9},{"t":6.37,"e":11},{"t":6.4,"e":5},{"t":6.42,"e":-3.9},{"t":6.45,"e":8},{"t":6.49,"e":20},{"t":6.53,"e":28},{"t":6.58,"e":38.5},{"t":6.63,"e":30},{"t":6.66,"e":10},{"t":6.69,"e":-3.9},{"t":6.72,"e":8},{"t":6.76,"e":25},{"t":6.81,"e":30},{"t":6.85,"e":37.5},{"t":6.88,"e":42},{"t":6.91,"e":46},{"t":6.95,"e":50},{"t":7.0,"e":53.4}]
},
"vconcat":[
{"hconcat":[
 {"width":379,"height":284,"data":{"name":"p1"},"transform":[{"fold":["d","e"],"as":["k","v"]},{"filter":"isValid(datum.v)"}],"mark":{"type":"line","interpolate":"monotone"},
  "encoding":{"x":{"field":"t","type":"quantitative","scale":{"domain":[0,7],"nice":false,"zero":false},"axis":{"values":[0,2,4,6],"title":"[s]"}},
   "y":{"field":"v","type":"quantitative","scale":{"domain":[-10,10],"nice":false,"zero":false},"axis":{"values":[-10,-5,0,5,10],"title":"[rad/s²]","labelExpr":"replace(datum.label,'−','-')"}},
   "color":{"field":"k","type":"nominal","scale":{"domain":["d","e"],"range":["#D95319","#0072BD"]},"legend":{"title":null,"labelExpr":"datum.label=='d'?'δ₁':'ε₁'"}}}},
 {"width":367,"height":284,"data":{"name":"p2"},"transform":[{"fold":["d","e"],"as":["k","v"]},{"filter":"isValid(datum.v)"}],"mark":{"type":"line","interpolate":"monotone"},
  "encoding":{"x":{"field":"t","type":"quantitative","scale":{"domain":[0,6.88],"nice":false,"zero":false},"axis":{"values":[0,2,4,6],"title":"[s]"}},
   "y":{"field":"v","type":"quantitative","scale":{"domain":[-0.6,0.6],"nice":false,"zero":false},"axis":{"values":[-0.6,-0.4,-0.2,0,0.2,0.4],"format":".1f","title":"[rad/s²]","labelExpr":"replace(datum.label,'−','-')"}},
   "color":{"field":"k","type":"nominal","scale":{"domain":["d","e"],"range":["#D95319","#0072BD"]},"legend":{"title":null,"labelExpr":"datum.label=='d'?'δ₂':'ε₂'"}}}}
 ],"spacing":127,"bounds":"flush","resolve":{"scale":{"color":"independent","x":"independent","y":"independent"},"legend":{"color":"independent"}}},
{"hconcat":[
 {"width":379,"height":284,"data":{"name":"p3"},"transform":[{"fold":["d","e"],"as":["k","v"]},{"filter":"isValid(datum.v)"}],"mark":{"type":"line","interpolate":"monotone"},
  "encoding":{"x":{"field":"t","type":"quantitative","scale":{"domain":[0,7],"nice":false,"zero":false},"axis":{"values":[0,2,4,6],"title":"[s]"}},
   "y":{"field":"v","type":"quantitative","scale":{"domain":[-10,10],"nice":false,"zero":false},"axis":{"values":[-10,-5,0,5,10],"title":"[rad/s²]","labelExpr":"replace(datum.label,'−','-')"}},
   "color":{"field":"k","type":"nominal","scale":{"domain":["d","e"],"range":["#D95319","#0072BD"]},"legend":{"title":null,"labelExpr":"datum.label=='d'?'δ₃':'ε₃'"}}}},
 {"width":373,"height":284,"data":{"name":"p4"},"transform":[{"fold":["d","e"],"as":["k","v"]},{"filter":"isValid(datum.v)"}],"mark":{"type":"line","interpolate":"monotone"},
  "encoding":{"x":{"field":"t","type":"quantitative","scale":{"domain":[0,6.91],"nice":false,"zero":false},"axis":{"values":[0,2,4,6],"title":"[s]"}},
   "y":{"field":"v","type":"quantitative","scale":{"domain":[-25,25],"nice":false,"zero":false},"axis":{"values":[-20,-10,0,10,20],"title":"[rad/s²]","labelExpr":"replace(datum.label,'−','-')"}},
   "color":{"field":"k","type":"nominal","scale":{"domain":["d","e"],"range":["#D95319","#0072BD"]},"legend":{"title":null,"labelExpr":"datum.label=='d'?'δ₄':'ε₄'"}}}}
 ],"spacing":121,"bounds":"flush","resolve":{"scale":{"color":"independent","x":"independent","y":"independent"},"legend":{"color":"independent"}}},
{"hconcat":[
 {"width":379,"height":284,"data":{"name":"p5"},"transform":[{"fold":["d","e"],"as":["k","v"]},{"filter":"isValid(datum.v)"}],"mark":{"type":"line","interpolate":"monotone"},
  "encoding":{"x":{"field":"t","type":"quantitative","scale":{"domain":[0,7],"nice":false,"zero":false},"axis":{"values":[0,2,4,6],"title":"[s]"}},
   "y":{"field":"v","type":"quantitative","scale":{"domain":[-22,22],"nice":false,"zero":false},"axis":{"values":[-20,-10,0,10,20],"title":"[rad/s²]","labelExpr":"replace(datum.label,'−','-')"}},
   "color":{"field":"k","type":"nominal","scale":{"domain":["d","e"],"range":["#D95319","#0072BD"]},"legend":{"title":null,"labelExpr":"datum.label=='d'?'δ₅':'ε₅'"}}}},
 {"width":367,"height":284,"data":{"name":"p6"},"transform":[{"fold":["d","e"],"as":["k","v"]},{"filter":"isValid(datum.v)"}],"mark":{"type":"line"},
  "encoding":{"x":{"field":"t","type":"quantitative","scale":{"domain":[0,6.88],"nice":false,"zero":false},"axis":{"values":[0,2,4,6],"title":"[s]"}},
   "y":{"field":"v","type":"quantitative","scale":{"domain":[-6,6],"nice":false,"zero":false},"axis":{"values":[-6,-4,-2,0,2,4,6],"format":".1f","title":"[rad/s²]","labelExpr":"replace(datum.label,'−','-')"}},
   "color":{"field":"k","type":"nominal","scale":{"domain":["d","e"],"range":["#D95319","#0072BD"]},"legend":{"title":null,"labelExpr":"datum.label=='d'?'δ₆':'ε₆'"}}}}
 ],"spacing":127,"bounds":"flush","resolve":{"scale":{"color":"independent","x":"independent","y":"independent"},"legend":{"color":"independent"}}},
{"hconcat":[
 {"width":131,"height":10,"data":{"values":[{"a":0}]},"mark":{"type":"point","opacity":0},"view":{"stroke":null}},
 {"width":386,"height":284,"data":{"name":"p7"},"transform":[{"fold":["d","e"],"as":["k","v"]},{"filter":"isValid(datum.v)"}],
  "encoding":{"x":{"field":"t","type":"quantitative","scale":{"domain":[0,7],"nice":false,"zero":false},"axis":{"values":[0,2,4,6],"title":"[s]"}},
   "y":{"field":"v","type":"quantitative","scale":{"domain":[-10,80],"nice":false,"zero":false},"axis":{"values":[0,20,40,60,80],"title":"[rad/s²]","labelExpr":"replace(datum.label,'−','-')"}},
   "color":{"field":"k","type":"nominal","scale":{"domain":["d","e"],"range":["#D95319","#0072BD"]},"legend":{"title":null,"symbolStrokeWidth":1.2,"labelExpr":"datum.label=='d'?'δ₇':'ε₇'"}}},
  "layer":[
   {"transform":[{"filter":"datum.k=='d'"}],"mark":{"type":"line","strokeWidth":2.8,"strokeJoin":"bevel","clip":true}},
   {"transform":[{"filter":"datum.k=='e'"}],"mark":{"type":"line","strokeWidth":1.6,"clip":true}}
  ]}
 ],"spacing":100,"bounds":"flush","resolve":{"scale":{"color":"independent","x":"independent","y":"independent"},"legend":{"color":"independent"}}}
]
}
